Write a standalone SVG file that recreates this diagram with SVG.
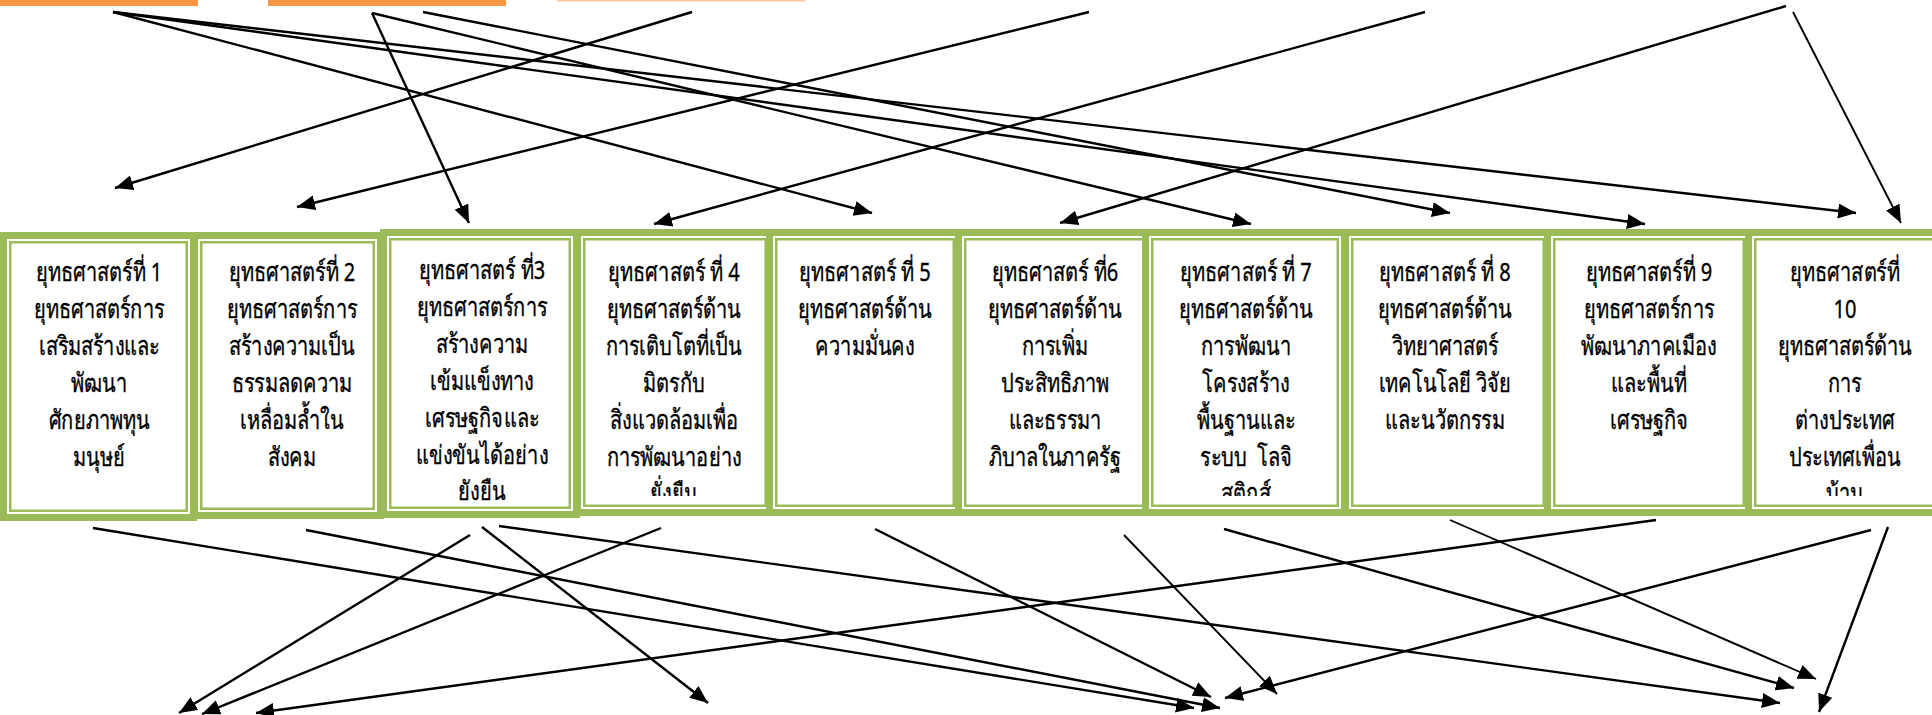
<svg xmlns="http://www.w3.org/2000/svg" width="1932" height="715" viewBox="0 0 1932 715">
<style>
.bar{fill:#F79646}
.outer{fill:#fff;stroke:#9BBB59;stroke-width:7}
.inner{fill:none;stroke:#9BBB59;stroke-width:2.5}
.t{font-family:"Noto Sans","DejaVu Sans",sans-serif;font-size:26px;font-weight:normal;fill:#000;stroke:#000;stroke-width:0.35;text-anchor:middle}
.c{stroke:#000;stroke-width:2.4;fill:none;marker-end:url(#ah)}
.c2{stroke:#000;stroke-width:1.9;fill:none;marker-end:url(#ah)}
</style>
<defs>
<marker id="ah" markerUnits="userSpaceOnUse" markerWidth="20" markerHeight="16" refX="18" refY="7.5" orient="auto">
<path d="M0,0 L18,7.5 L0,15 z" fill="#000"/>
</marker>
<clipPath id="clip" clipPathUnits="userSpaceOnUse"><rect x="-1200" y="230" width="2400" height="266"/></clipPath>
</defs>
<rect width="1932" height="715" fill="#fff"/>
<g id="bars">
<rect class="bar" x="0" y="0" width="198" height="6"/>
<rect class="bar" x="268" y="0" width="238" height="6"/>
<rect x="557" y="0" width="249" height="1.5" fill="#FBC9A2"/>
</g>
<g id="node1">
<rect class="outer" x="3.5" y="235.5" width="190" height="282"/>
<rect class="inner" x="10.25" y="242.25" width="176.5" height="268.5"/>
<g class="t" transform="translate(99,0) scale(0.77,1)"><text x="0" y="281">ยุทธศาสตร์ที่ 1</text><text x="0" y="318">ยุทธศาสตร์การ</text><text x="0" y="355">เสริมสร้างและ</text><text x="0" y="392">พัฒนา</text><text x="0" y="429">ศักยภาพทุน</text><text x="0" y="466">มนุษย์</text></g>
</g>
<g id="node2">
<rect class="outer" x="194.5" y="235.5" width="186" height="280"/>
<rect class="inner" x="201.25" y="242.25" width="172.5" height="266.5"/>
<g class="t" transform="translate(292,0) scale(0.77,1)"><text x="0" y="281">ยุทธศาสตร์ที่ 2</text><text x="0" y="318">ยุทธศาสตร์การ</text><text x="0" y="355">สร้างความเป็น</text><text x="0" y="392">ธรรมลดความ</text><text x="0" y="429">เหลื่อมล้ำใน</text><text x="0" y="466">สังคม</text></g>
</g>
<g id="node3">
<rect class="outer" x="383.5" y="232.5" width="193" height="282"/>
<rect class="inner" x="390.25" y="239.25" width="179.5" height="268.5"/>
<g class="t" transform="translate(482,0) scale(0.77,1)"><text x="0" y="279">ยุทธศาสตร์ ที่3</text><text x="0" y="316">ยุทธศาสตร์การ</text><text x="0" y="353">สร้างความ</text><text x="0" y="390">เข้มแข็งทาง</text><text x="0" y="427">เศรษฐกิจและ</text><text x="0" y="464">แข่งขันได้อย่าง</text><text x="0" y="500">ยังยืน</text></g>
</g>
<g id="node4">
<rect class="outer" x="577.5" y="232.5" width="195" height="280"/>
<rect class="inner" x="584.25" y="239.25" width="181.5" height="266.5"/>
<g class="t" transform="translate(674,0) scale(0.77,1)" clip-path="url(#clip)"><text x="0" y="281">ยุทธศาสตร์ ที่ 4</text><text x="0" y="318">ยุทธศาสตร์ด้าน</text><text x="0" y="355">การเติบโตที่เป็น</text><text x="0" y="392">มิตรกับ</text><text x="0" y="429">สิ่งแวดล้อมเพื่อ</text><text x="0" y="466">การพัฒนาอย่าง</text><text x="0" y="502">ยั่งยืน</text></g>
</g>
<g id="node5">
<rect class="outer" x="769.5" y="232.5" width="191" height="280"/>
<rect class="inner" x="776.25" y="239.25" width="177.5" height="266.5"/>
<g class="t" transform="translate(865,0) scale(0.77,1)"><text x="0" y="281">ยุทธศาสตร์ ที่ 5</text><text x="0" y="318">ยุทธศาสตร์ด้าน</text><text x="0" y="355">ความมั่นคง</text></g>
</g>
<g id="node6">
<rect class="outer" x="958.5" y="232.5" width="194" height="280"/>
<rect class="inner" x="965.25" y="239.25" width="180.5" height="266.5"/>
<g class="t" transform="translate(1055,0) scale(0.77,1)"><text x="0" y="281">ยุทธศาสตร์ ที่6</text><text x="0" y="318">ยุทธศาสตร์ด้าน</text><text x="0" y="355">การเพิ่ม</text><text x="0" y="392">ประสิทธิภาพ</text><text x="0" y="429">และธรรมา</text><text x="0" y="466">ภิบาลในภาครัฐ</text></g>
</g>
<g id="node7">
<rect class="outer" x="1145.5" y="232.5" width="199" height="280"/>
<rect class="inner" x="1152.25" y="239.25" width="185.5" height="266.5"/>
<g class="t" transform="translate(1246,0) scale(0.77,1)" clip-path="url(#clip)"><text x="0" y="281">ยุทธศาสตร์ ที่ 7</text><text x="0" y="318">ยุทธศาสตร์ด้าน</text><text x="0" y="355">การพัฒนา</text><text x="0" y="392">โครงสร้าง</text><text x="0" y="429">พื้นฐานและ</text><text x="0" y="466" xml:space="preserve">ระบบ  โลจิ</text><text x="0" y="502">สติกส์</text></g>
</g>
<g id="node8">
<rect class="outer" x="1345.5" y="232.5" width="205" height="280"/>
<rect class="inner" x="1352.25" y="239.25" width="191.5" height="266.5"/>
<g class="t" transform="translate(1445,0) scale(0.77,1)"><text x="0" y="281">ยุทธศาสตร์ ที่ 8</text><text x="0" y="318">ยุทธศาสตร์ด้าน</text><text x="0" y="355">วิทยาศาสตร์</text><text x="0" y="392">เทคโนโลยี วิจัย</text><text x="0" y="429">และนวัตกรรม</text></g>
</g>
<g id="node9">
<rect class="outer" x="1547.5" y="232.5" width="203" height="280"/>
<rect class="inner" x="1554.25" y="239.25" width="189.5" height="266.5"/>
<g class="t" transform="translate(1649,0) scale(0.77,1)"><text x="0" y="281">ยุทธศาสตร์ที่ 9</text><text x="0" y="318">ยุทธศาสตร์การ</text><text x="0" y="355">พัฒนาภาคเมือง</text><text x="0" y="392">และพื้นที่</text><text x="0" y="429">เศรษฐกิจ</text></g>
</g>
<g id="node10">
<rect class="outer" x="1748.5" y="232.5" width="194" height="280"/>
<rect class="inner" x="1755.25" y="239.25" width="180.5" height="266.5"/>
<g class="t" transform="translate(1845,0) scale(0.77,1)" clip-path="url(#clip)"><text x="0" y="281">ยุทธศาสตร์ที่</text><text x="0" y="318">10</text><text x="0" y="355">ยุทธศาสตร์ด้าน</text><text x="0" y="392">การ</text><text x="0" y="429">ต่างประเทศ</text><text x="0" y="466">ประเทศเพื่อน</text><text x="0" y="502">บ้าน</text></g>
</g>
<g id="connectors">
<line class="c" x1="113" y1="12" x2="872" y2="213"/>
<line class="c" x1="113" y1="12" x2="1645" y2="224"/>
<line class="c" x1="113" y1="12" x2="1856" y2="213"/>
<line class="c" x1="372" y1="13" x2="469" y2="223"/>
<line class="c" x1="372" y1="13" x2="1251" y2="224"/>
<line class="c" x1="423" y1="12" x2="1450" y2="213"/>
<line class="c" x1="692" y1="12" x2="115" y2="188"/>
<line class="c" x1="1089" y1="12" x2="297" y2="207"/>
<line class="c" x1="1425" y1="12" x2="654" y2="224"/>
<line class="c" x1="1786" y1="6" x2="1060" y2="223"/>
<line class="c2" x1="1793" y1="12" x2="1901" y2="223"/>
<line class="c" x1="93" y1="528" x2="1194" y2="708"/>
<line class="c" x1="306" y1="530" x2="1220" y2="708"/>
<line class="c" x1="470" y1="535" x2="179" y2="713"/>
<line class="c" x1="482" y1="527" x2="708" y2="703"/>
<line class="c" x1="499" y1="526" x2="1780" y2="703"/>
<line class="c" x1="661" y1="528" x2="202" y2="714"/>
<line class="c" x1="875" y1="529" x2="1211" y2="697"/>
<line class="c2" x1="1124" y1="535" x2="1277" y2="694"/>
<line class="c" x1="1224" y1="529" x2="1794" y2="688"/>
<line class="c2" x1="1450" y1="520" x2="1816" y2="679"/>
<line class="c" x1="1656" y1="520" x2="256" y2="713"/>
<line class="c" x1="1871" y1="530" x2="1225" y2="698"/>
<line class="c" x1="1888" y1="527" x2="1819" y2="712"/>
</g>
</svg>
